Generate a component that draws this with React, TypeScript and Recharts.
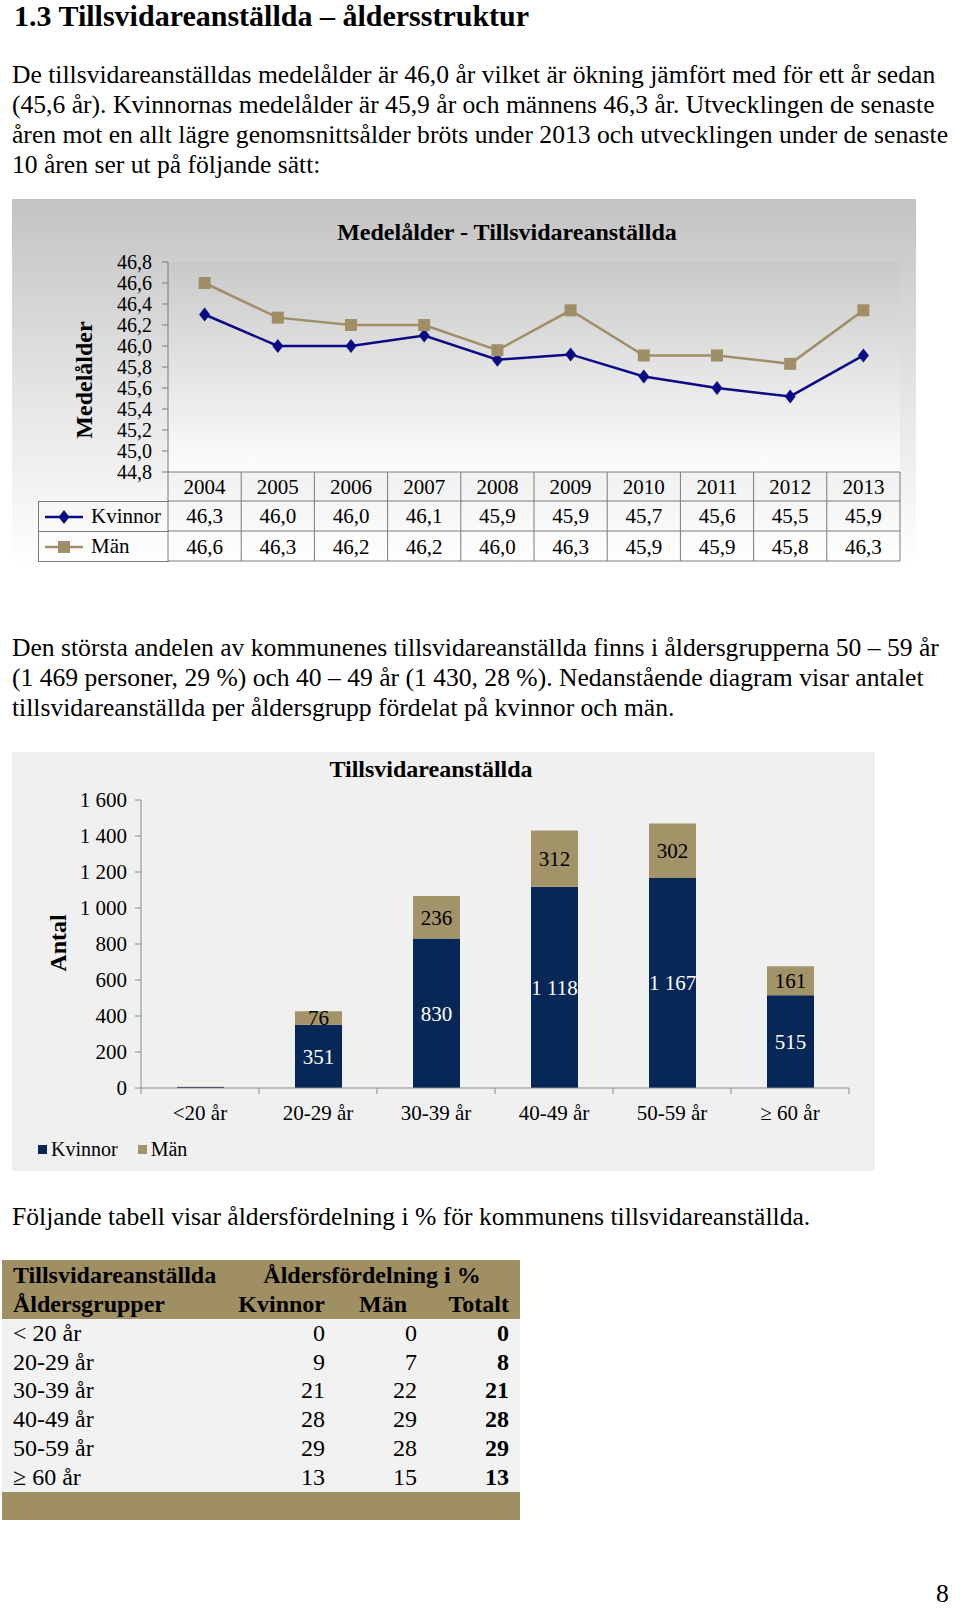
import React from "react";
import {
  LineChart,
  Line,
  BarChart,
  Bar,
  XAxis,
  YAxis,
  CartesianGrid,
  Legend,
  LabelList
} from "recharts";

// Medelålder per år
const years = ["2004", "2005", "2006", "2007", "2008", "2009", "2010", "2011", "2012", "2013"];
const kvinnorAge = [46.3, 46.0, 46.0, 46.1, 45.87, 45.92, 45.71, 45.6, 45.52, 45.91];
const manAge = [46.6, 46.27, 46.2, 46.2, 45.96, 46.34, 45.91, 45.91, 45.83, 46.34];
const ageTicks = [44.8, 45.0, 45.2, 45.4, 45.6, 45.8, 46.0, 46.2, 46.4, 46.6, 46.8];

// Antal per åldersgrupp
const ageGroups = ["<20 år", "20-29 år", "30-39 år", "40-49 år", "50-59 år", "≥ 60 år"];
const kvinnorCount = [5, 351, 830, 1118, 1167, 515];
const manCount = [2, 76, 236, 312, 302, 161];
const countTicks = [0, 200, 400, 600, 800, 1000, 1200, 1400, 1600];

// Åldersfördelning i %
const tableGroups = ["< 20 år", "20-29 år", "30-39 år", "40-49 år", "50-59 år", "≥ 60 år"];
const pctKvinnor = [0, 9, 21, 28, 29, 13];
const pctMan = [0, 7, 22, 29, 28, 15];
const pctTotalt = [0, 8, 21, 28, 29, 13];

const para1 = [
  "De tillsvidareanställdas medelålder är 46,0 år vilket är ökning jämfört med för ett år sedan",
  "(45,6 år). Kvinnornas medelålder är 45,9 år och männens 46,3 år. Utvecklingen de senaste",
  "åren mot en allt lägre genomsnittsålder bröts under 2013 och utvecklingen under de senaste",
  "10 åren ser ut på följande sätt:"
];
const para2 = [
  "Den största andelen av kommunenes tillsvidareanställda finns i åldersgrupperna 50 – 59 år",
  "(1 469 personer, 29 %) och 40 – 49 år (1 430, 28 %). Nedanstående diagram visar antalet",
  "tillsvidareanställda per åldersgrupp fördelat på kvinnor och män."
];

const NAVY_LINE = "#0b0b86";
const TAN = "#a08f66";
const BAR_NAVY = "#072757";
const BAR_TAN = "#a39368";
const GRID = "#7a7a7a";
const AXIS = "#8a8a8a";
const FONT = "'Liberation Serif', 'Times New Roman', serif";
const BODY = 25.6;

const ageData = years.map((year, i) => ({ year, kvinnor: kvinnorAge[i], man: manAge[i] }));
const countData = ageGroups.map((group, i) => ({ group, kvinnor: kvinnorCount[i], man: manCount[i] }));

const comma = (v: number) => v.toFixed(1).replace(".", ",");
const spaced = (v: number) =>
  v >= 1000 ? `${Math.floor(v / 1000)} ${String(v % 1000).padStart(3, "0")}` : String(v);

// line chart geometry
const LC_W = 904;
const LC_H = 398;
const LC_LEFT = 156;
const LC_RIGHT = 16;
const LC_TOP = 63;
const LC_PLOT_H = 210;
const BAND = (LC_W - LC_LEFT - LC_RIGHT) / years.length;

// bar chart geometry
const BC_W = 863;
const BC_H = 419;
const BC_LEFT = 129;
const BC_RIGHT = 26;
const BC_TOP = 48;
const BC_PLOT_H = 288;
const GROUP_BAND = (BC_W - BC_LEFT - BC_RIGHT) / ageGroups.length;

const AgeTableTick = (props: any) => {
  const { x, y, payload } = props;
  const i = years.indexOf(String(payload.value));
  const h = BAND / 2;
  return (
    <g>
      {i === 0 && <line x1={x - h} y1={y} x2={x - h} y2={y + 89} stroke={GRID} />}
      <line x1={x + h} y1={y} x2={x + h} y2={y + 89} stroke={GRID} />
      {[29, 59, 89].map((dy) => (
        <line key={dy} x1={x - h} y1={y + dy} x2={x + h} y2={y + dy} stroke={GRID} />
      ))}
      <text x={x} y={y + 15} textAnchor="middle" dominantBaseline="central" fontSize={21} fill="#000">
        {payload.value}
      </text>
      <text x={x} y={y + 44} textAnchor="middle" dominantBaseline="central" fontSize={21} fill="#000">
        {comma(kvinnorAge[i])}
      </text>
      <text x={x} y={y + 75} textAnchor="middle" dominantBaseline="central" fontSize={21} fill="#000">
        {comma(manAge[i])}
      </text>
    </g>
  );
};

const Diamond = (p: any) => {
  if (p.cx == null) return <g key={`kd${p.index}`} />;
  return (
    <path
      key={`kd${p.index}`}
      d={`M${p.cx},${p.cy - 7}L${p.cx + 5.5},${p.cy}L${p.cx},${p.cy + 7}L${p.cx - 5.5},${p.cy}Z`}
      fill={NAVY_LINE}
    />
  );
};

const Square = (p: any) => {
  if (p.cx == null) return <g key={`ms${p.index}`} />;
  return <rect key={`ms${p.index}`} x={p.cx - 6} y={p.cy - 6} width={12} height={12} fill={TAN} />;
};

const AgeLegend = (props: any) => {
  const items = props.payload || [];
  return (
    <div
      style={{
        width: 130,
        borderTop: `1px solid ${GRID}`,
        borderLeft: `1px solid ${GRID}`,
        fontFamily: FONT
      }}
    >
      {items.map((it: any, k: number) => (
        <div
          key={it.value}
          style={{
            height: 30,
            boxSizing: "border-box",
            borderBottom: `1px solid ${GRID}`,
            display: "flex",
            alignItems: "center"
          }}
        >
          <svg width={50} height={20} style={{ display: "block" }}>
            <line x1={6} y1={10} x2={44} y2={10} stroke={it.color} strokeWidth={2.5} />
            {k === 0 ? (
              <path d="M25,3L30.5,10L25,17L19.5,10Z" fill={it.color} />
            ) : (
              <rect x={19} y={4} width={12} height={12} fill={it.color} />
            )}
          </svg>
          <span style={{ fontSize: 21, color: "#000", marginLeft: 2 }}>{it.value}</span>
        </div>
      ))}
    </div>
  );
};

const GroupTick = (props: any) => {
  const { x, y, payload } = props;
  const i = ageGroups.indexOf(String(payload.value));
  const h = GROUP_BAND / 2;
  return (
    <g>
      {i === 0 && <line x1={x - h} y1={y} x2={x - h} y2={y + 6} stroke={AXIS} />}
      <line x1={x + h} y1={y} x2={x + h} y2={y + 6} stroke={AXIS} />
      <text x={x} y={y + 25} textAnchor="middle" dominantBaseline="central" fontSize={21} fill="#000">
        {payload.value}
      </text>
    </g>
  );
};

const CountLegend = (props: any) => {
  const items = props.payload || [];
  return (
    <div style={{ display: "flex", alignItems: "center", fontFamily: FONT, fontSize: 20 }}>
      {items.map((it: any) => (
        <div key={it.value} style={{ display: "flex", alignItems: "center", marginRight: 20 }}>
          <span style={{ width: 9, height: 9, background: it.color, display: "inline-block", marginRight: 4 }} />
          <span style={{ color: "#000" }}>{it.value}</span>
        </div>
      ))}
    </div>
  );
};

const textLine = (top: number, left: number, size: number, content: string, bold = false, lh = 30) => (
  <div
    key={`${top}-${content}`}
    style={{
      position: "absolute",
      top,
      left,
      fontSize: size,
      lineHeight: `${lh}px`,
      whiteSpace: "nowrap",
      fontWeight: bold ? "bold" : "normal",
      color: "#000"
    }}
  >
    {content}
  </div>
);

const cell = (extra: React.CSSProperties = {}): React.CSSProperties => ({
  padding: 0,
  whiteSpace: "nowrap",
  ...extra
});

export default function App() {
  return (
    <div
      style={{
        position: "absolute",
        left: 0,
        top: 0,
        width: 960,
        height: 1613,
        background: "#fff",
        overflow: "hidden",
        fontFamily: FONT
      }}
    >
      {textLine(3, 14, 30, "1.3 Tillsvidareanställda – åldersstruktur", true, 26)}
      {para1.map((l, i) => textLine(60 + i * 30, 12, BODY, l))}

      {/* Medelålder */}
      <div
        style={{
          position: "absolute",
          left: 12,
          top: 199,
          width: LC_W,
          height: LC_H,
          background: "linear-gradient(to bottom, #c3c3c3 0%, #e2e2e2 45%, #ffffff 92%)"
        }}
      >
        <div
          style={{
            position: "absolute",
            left: 495,
            top: 20,
            transform: "translateX(-50%)",
            fontSize: 24,
            fontWeight: "bold",
            whiteSpace: "nowrap"
          }}
        >
          Medelålder - Tillsvidareanställda
        </div>
        <div
          style={{
            position: "absolute",
            left: 72,
            top: 181,
            transform: "translate(-50%, -50%) rotate(-90deg)",
            fontSize: 24,
            fontWeight: "bold",
            whiteSpace: "nowrap"
          }}
        >
          Medelålder
        </div>
        <LineChart
          width={LC_W}
          height={LC_H}
          data={ageData}
          margin={{ top: LC_TOP, right: LC_RIGHT, left: 0, bottom: 0 }}
        >
          <defs>
            <linearGradient id="plotBg" x1="0" y1="0" x2="0" y2="1">
              <stop offset="0%" stopColor="#c9c9c9" />
              <stop offset="100%" stopColor="#fdfdfd" />
            </linearGradient>
          </defs>
          <CartesianGrid horizontal={false} vertical={false} fill="url(#plotBg)" />
          <XAxis
            dataKey="year"
            height={LC_H - LC_TOP - LC_PLOT_H}
            padding={{ left: BAND / 2, right: BAND / 2 }}
            interval={0}
            tickLine={false}
            tickSize={0}
            tickMargin={0}
            tick={<AgeTableTick />}
            axisLine={{ stroke: GRID }}
          />
          <YAxis
            width={LC_LEFT}
            domain={[44.8, 46.8]}
            ticks={ageTicks}
            interval={0}
            tickFormatter={comma}
            tickSize={6}
            tickMargin={10}
            axisLine={{ stroke: GRID }}
            tickLine={{ stroke: GRID }}
            tick={{ fill: "#000", fontSize: 20 }}
          />
          <Line
            name="Kvinnor"
            dataKey="kvinnor"
            stroke={NAVY_LINE}
            strokeWidth={2.5}
            dot={Diamond}
            activeDot={false}
            isAnimationActive={false}
          />
          <Line
            name="Män"
            dataKey="man"
            stroke={TAN}
            strokeWidth={2.5}
            dot={Square}
            activeDot={false}
            isAnimationActive={false}
          />
          <Legend
            layout="horizontal"
            verticalAlign="middle"
            align="center"
            content={<AgeLegend />}
            wrapperStyle={{ left: 26, top: 302, width: 131, height: 61 }}
          />
        </LineChart>
      </div>

      {para2.map((l, i) => textLine(633 + i * 30, 12, BODY, l))}

      {/* Tillsvidareanställda per åldersgrupp */}
      <div
        style={{
          position: "absolute",
          left: 12,
          top: 752,
          width: BC_W,
          height: BC_H,
          background: "#f0f0f0"
        }}
      >
        <div
          style={{
            position: "absolute",
            left: 419,
            top: 4,
            transform: "translateX(-50%)",
            fontSize: 24,
            fontWeight: "bold",
            whiteSpace: "nowrap"
          }}
        >
          Tillsvidareanställda
        </div>
        <div
          style={{
            position: "absolute",
            left: 46,
            top: 191,
            transform: "translate(-50%, -50%) rotate(-90deg)",
            fontSize: 24,
            fontWeight: "bold",
            whiteSpace: "nowrap"
          }}
        >
          Antal
        </div>
        <BarChart
          width={BC_W}
          height={BC_H}
          data={countData}
          margin={{ top: BC_TOP, right: BC_RIGHT, left: 0, bottom: 0 }}
          barSize={47}
        >
          <XAxis
            dataKey="group"
            height={BC_H - BC_TOP - BC_PLOT_H}
            interval={0}
            tickLine={false}
            tickSize={0}
            tickMargin={0}
            tick={<GroupTick />}
            axisLine={{ stroke: AXIS }}
          />
          <YAxis
            width={BC_LEFT}
            domain={[0, 1600]}
            ticks={countTicks}
            interval={0}
            tickFormatter={spaced}
            tickSize={6}
            tickMargin={8}
            axisLine={{ stroke: AXIS }}
            tickLine={{ stroke: AXIS }}
            tick={{ fill: "#000", fontSize: 21 }}
          />
          <Bar name="Kvinnor" dataKey="kvinnor" stackId="a" fill={BAR_NAVY} isAnimationActive={false}>
            <LabelList
              dataKey="kvinnor"
              position="center"
              fill="#fff"
              fontSize={21}
              formatter={(v: any) => (Number(v) >= 50 ? spaced(Number(v)) : "")}
            />
          </Bar>
          <Bar name="Män" dataKey="man" stackId="a" fill={BAR_TAN} isAnimationActive={false}>
            <LabelList
              dataKey="man"
              position="center"
              fill="#000"
              fontSize={21}
              formatter={(v: any) => (Number(v) >= 50 ? spaced(Number(v)) : "")}
            />
          </Bar>
          <Legend
            layout="horizontal"
            verticalAlign="middle"
            align="center"
            content={<CountLegend />}
            wrapperStyle={{ left: 26, top: 386, width: 200, height: 24 }}
          />
        </BarChart>
      </div>

      {textLine(1202, 12, BODY, "Följande tabell visar åldersfördelning i % för kommunens tillsvidareanställda.")}

      <table
        style={{
          position: "absolute",
          left: 2,
          top: 1260,
          width: 518,
          borderCollapse: "collapse",
          tableLayout: "fixed",
          fontSize: 24,
          color: "#000"
        }}
      >
        <colgroup>
          <col style={{ width: 236 }} />
          <col style={{ width: 98 }} />
          <col style={{ width: 94 }} />
          <col style={{ width: 90 }} />
        </colgroup>
        <tbody>
          <tr style={{ height: 30, background: "#a08f62", fontWeight: "bold" }}>
            <td style={cell({ paddingLeft: 11 })}>Tillsvidareanställda</td>
            <td colSpan={3} style={cell({ textAlign: "center", paddingRight: 14 })}>
              Åldersfördelning i %
            </td>
          </tr>
          <tr style={{ height: 29, background: "#a08f62", fontWeight: "bold" }}>
            <td style={cell({ paddingLeft: 11 })}>Åldersgrupper</td>
            <td style={cell({ textAlign: "right", paddingRight: 11 })}>Kvinnor</td>
            <td style={cell({ textAlign: "right", paddingRight: 23 })}>Män</td>
            <td style={cell({ textAlign: "right", paddingRight: 11 })}>Totalt</td>
          </tr>
          {tableGroups.map((g, i) => (
            <tr key={g} style={{ height: 28.8, background: "#f2f2f2" }}>
              <td style={cell({ paddingLeft: 11 })}>{g}</td>
              <td style={cell({ textAlign: "right", paddingRight: 11 })}>{pctKvinnor[i]}</td>
              <td style={cell({ textAlign: "right", paddingRight: 13 })}>{pctMan[i]}</td>
              <td style={cell({ textAlign: "right", paddingRight: 11, fontWeight: "bold" })}>
                {pctTotalt[i]}
              </td>
            </tr>
          ))}
          <tr style={{ height: 28, background: "#a08f62" }}>
            <td colSpan={4} style={cell()} />
          </tr>
        </tbody>
      </table>

      {textLine(1584, 936, BODY, "8", false, 20)}
    </div>
  );
}
